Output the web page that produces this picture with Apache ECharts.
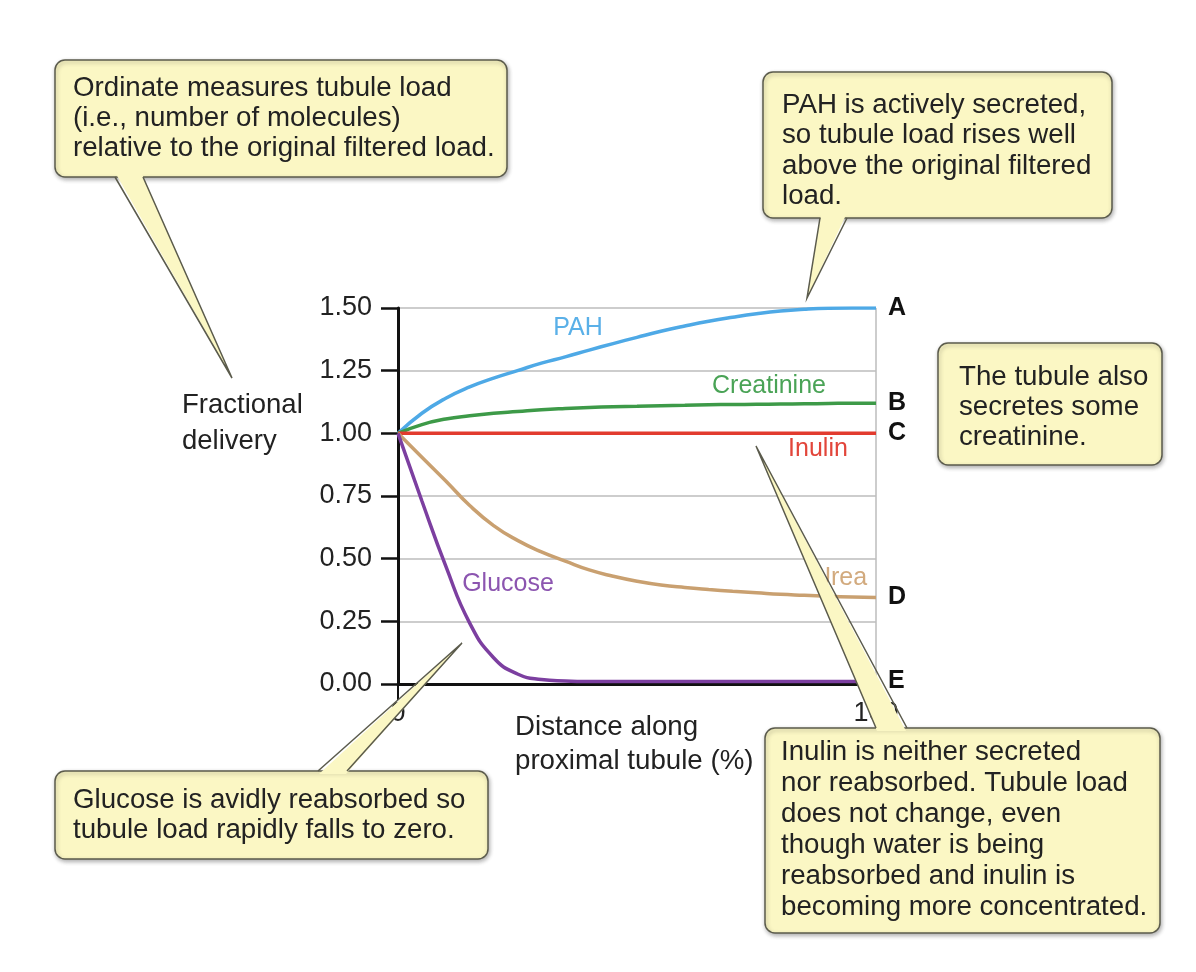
<!DOCTYPE html>
<html>
<head>
<meta charset="utf-8">
<script src="https://cdn.jsdelivr.net/npm/echarts@6/dist/echarts.min.js"></script>
<style>
html, body { margin: 0; padding: 0; background: #fff; }
#chart { width: 1196px; height: 972px; }
</style>
</head>
<body>
<div id="chart"></div>
<script>
// distance along proximal tubule (%)
var distance   = [0, 5, 10, 15, 20, 25, 30, 35, 40, 45, 50, 55, 60, 65, 70, 75, 80, 85, 90, 95, 100];
// fractional delivery
var pah        = [1.0, 1.08, 1.14, 1.185, 1.22, 1.25, 1.28, 1.305, 1.332, 1.358, 1.383, 1.407, 1.428, 1.447, 1.463, 1.477, 1.488, 1.495, 1.499, 1.5, 1.5];
var creatinine = [1.0, 1.035, 1.057, 1.07, 1.08, 1.087, 1.094, 1.099, 1.103, 1.106, 1.108, 1.11, 1.112, 1.114, 1.115, 1.116, 1.117, 1.118, 1.119, 1.12, 1.12];
var inulin     = [1, 1, 1, 1, 1, 1, 1, 1, 1, 1, 1, 1, 1, 1, 1, 1, 1, 1, 1, 1, 1];
var urea       = [1.0, 0.905, 0.81, 0.712, 0.632, 0.573, 0.527, 0.49, 0.455, 0.43, 0.41, 0.395, 0.385, 0.377, 0.37, 0.364, 0.358, 0.354, 0.35, 0.347, 0.345];
var glucose    = [1.0, 0.73, 0.47, 0.243, 0.105, 0.04, 0.018, 0.012, 0.01, 0.01, 0.01, 0.01, 0.01, 0.01, 0.01, 0.01, 0.01, 0.01, 0.01, 0.01, 0.01];

var FONT = '"Liberation Sans", Arial, Helvetica, sans-serif';
var YELLOW = '#fbf7c4';
var EDGE = '#5b5b4c';

function lineSeries(name, values, color, letter) {
    return {
        name: name,
        type: 'line',
        data: distance.map(function (d, i) { return [d, values[i]]; }),
        smooth: 0.5,
        symbol: 'none',
        lineStyle: { color: color, width: 3.5 },
        endLabel: {
            show: true, formatter: letter, distance: 12,
            color: '#111', fontWeight: 'bold', fontSize: 25, fontFamily: FONT
        }
    };
}

function seriesText(txt, x, y, color) {
    return {
        type: 'text', x: x, y: y, z: 50,
        style: { text: txt, fill: color, font: '25px ' + FONT, align: 'center', verticalAlign: 'middle' }
    };
}

// speech-bubble box; ptr = [base1, base2, tip]
function callout(b, ptr, lines, tx, ty, lh) {
    var els = [];
    els.push({
        type: 'rect', z: 100,
        shape: { x: b[0], y: b[1], width: b[2], height: b[3], r: 10 },
        style: { fill: YELLOW, stroke: EDGE, lineWidth: 1.5,
            shadowBlur: 4, shadowColor: 'rgba(0,0,0,0.3)', shadowOffsetX: 1, shadowOffsetY: 2 }
    });
    if (ptr) {
        var dir = ptr[2][1] > ptr[0][1] ? -3 : 3;
        els.push({
            type: 'polygon', z: 101,
            shape: { points: [[ptr[0][0] + 1, ptr[0][1] + dir], [ptr[1][0] - 1, ptr[1][1] + dir], ptr[2]] },
            style: { fill: YELLOW }
        });
        els.push({
            type: 'polyline', z: 102,
            shape: { points: [ptr[0], ptr[2], ptr[1]] },
            style: { stroke: EDGE, lineWidth: 1.5, fill: null }
        });
    }
    els.push({
        type: 'text', x: tx, y: ty, z: 103,
        style: { text: lines.join('\n'), fill: '#222', font: '27.7px ' + FONT, lineHeight: lh, verticalAlign: 'top' }
    });
    return els;
}

var graphics = [
    { type: 'text', x: 182, y: 387, z: 50,
      style: { text: 'Fractional\ndelivery', fill: '#222', font: '27.5px ' + FONT, lineHeight: 36, verticalAlign: 'top' } },
    { type: 'text', x: 515, y: 710, z: 50,
      style: { text: 'Distance along\nproximal tubule (%)', fill: '#222', font: '27.7px ' + FONT, lineHeight: 34, verticalAlign: 'top' } },
    seriesText('PAH', 578, 328, '#5ab0e8'),
    seriesText('Creatinine', 769, 386, '#4aa356'),
    seriesText('Inulin', 818, 449, '#e2453a'),
    seriesText('Urea', 840, 578, '#d2aa7e'),
    seriesText('Glucose', 508, 584, '#8c55b0')
];
graphics = graphics
    .concat(callout([55, 60, 452, 117], [[115, 177], [143, 177], [232, 378]],
        ['Ordinate measures tubule load', '(i.e., number of molecules)', 'relative to the original filtered load.'], 73, 73, 30))
    .concat(callout([763, 72, 349, 146], [[820, 218], [847, 218], [807, 298]],
        ['PAH is actively secreted,', 'so tubule load rises well', 'above the original filtered', 'load.'], 782, 90, 30.5))
    .concat(callout([938, 343, 224, 122], null,
        ['The tubule also', 'secretes some', 'creatinine.'], 959, 362, 30))
    .concat(callout([55, 771, 433, 88], [[318, 771], [347, 771], [462, 643]],
        ['Glucose is avidly reabsorbed so', 'tubule load rapidly falls to zero.'], 73, 785, 30))
    .concat(callout([765, 728, 395, 205], [[876, 728], [907, 728], [756, 446]],
        ['Inulin is neither secreted', 'nor reabsorbed. Tubule load', 'does not change, even',
         'though water is being', 'reabsorbed and inulin is', 'becoming more concentrated.'], 781, 737, 31));

var chart = echarts.init(document.getElementById('chart'));
chart.setOption({
    animation: false,
    backgroundColor: '#fff',
    grid: { left: 398, right: 320, top: 308, bottom: 288, outerBoundsMode: 'none' },
    xAxis: {
        type: 'value', min: 0, max: 100, interval: 100,
        axisLine: { show: true, onZero: false, lineStyle: { color: '#111', width: 3 } },
        axisTick: { show: true, length: 16, lineStyle: { color: '#111', width: 2 } },
        axisLabel: { color: '#222', fontSize: 27, fontFamily: FONT, margin: 16 },
        splitLine: { show: true, lineStyle: { color: '#bdbdbd', width: 1.5 } }
    },
    yAxis: {
        type: 'value', min: 0, max: 1.5, interval: 0.25,
        axisLine: { show: true, onZero: false, lineStyle: { color: '#111', width: 3 } },
        axisTick: { show: true, length: 17, lineStyle: { color: '#111', width: 2.5 } },
        axisLabel: { color: '#222', fontSize: 27, fontFamily: FONT, margin: 26,
            formatter: function (v) { return v.toFixed(2); } },
        splitLine: { show: true, lineStyle: { color: '#bdbdbd', width: 1.5 } }
    },
    series: [
        lineSeries('PAH', pah, '#4ea9e6', 'A'),
        lineSeries('Creatinine', creatinine, '#3d9a48', 'B'),
        lineSeries('Inulin', inulin, '#e23b2e', 'C'),
        lineSeries('Urea', urea, '#c9a070', 'D'),
        lineSeries('Glucose', glucose, '#7c3fa0', 'E')
    ],
    graphic: graphics
});
</script>
</body>
</html>
